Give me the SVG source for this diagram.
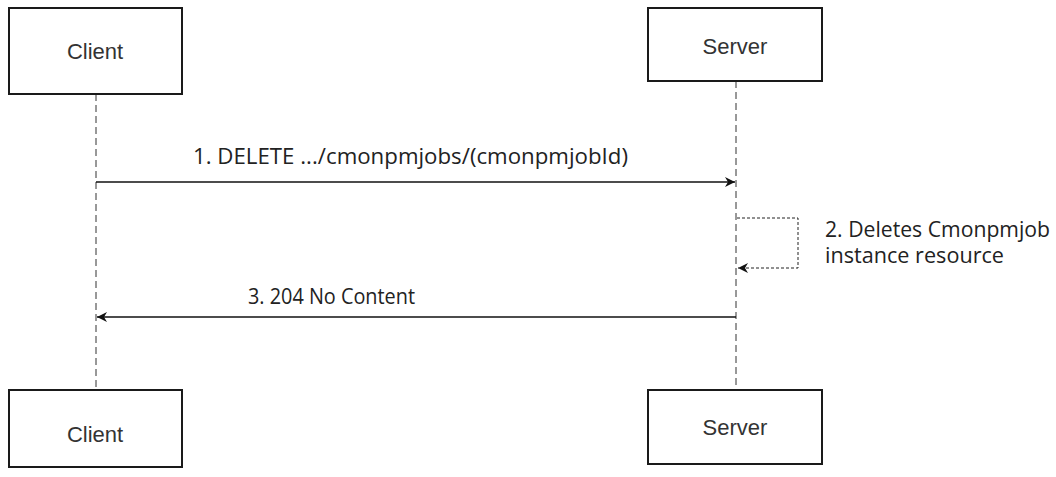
<svg xmlns="http://www.w3.org/2000/svg" width="1056" height="477" viewBox="0 0 1056 477">
  <style>
    .box { fill: #ffffff; stroke: #1a1a1a; stroke-width: 2; }
    .lbl { font-family: "Liberation Sans", Arial, sans-serif; font-size: 22px; fill: #333333; text-anchor: middle; }
    .msg { font-family: "Open Sans", "Liberation Sans", sans-serif; font-size: 21px; fill: #222222; }
    .life { stroke: #333333; stroke-width: 1; stroke-dasharray: 7 4; fill: none; }
    .arrow { stroke: #111111; stroke-width: 1.3; fill: none; }
    .self { stroke: #222222; stroke-width: 1; stroke-dasharray: 3 2; fill: none; }
  </style>
  <defs>
    <marker id="ah" viewBox="0 0 10 10" refX="10" refY="5" markerWidth="10" markerHeight="10" markerUnits="userSpaceOnUse" orient="auto">
      <path d="M0,0 L10,5 L0,10 L3,5 Z" fill="#111111"/>
    </marker>
  </defs>
  <rect width="1056" height="477" fill="#ffffff"/>

  <g id="connectors">
    <line class="life" x1="96" y1="94" x2="96" y2="390"/>
    <line class="life" x1="736" y1="81" x2="736" y2="390"/>
    <line class="arrow" x1="96" y1="182" x2="735" y2="182" marker-end="url(#ah)"/>
    <polyline class="self" points="737,218 798,218 798,268 738,268" marker-end="url(#ah)"/>
    <line class="arrow" x1="736" y1="317" x2="97" y2="317" marker-end="url(#ah)"/>
    <text class="msg" x="193" y="164" textLength="435" lengthAdjust="spacingAndGlyphs">1. DELETE .../cmonpmjobs/(cmonpmjobId)</text>
    <text class="msg" x="825" y="237" textLength="225" lengthAdjust="spacingAndGlyphs">2. Deletes Cmonpmjob</text>
    <text class="msg" x="825" y="263" textLength="179" lengthAdjust="spacingAndGlyphs">instance resource</text>
    <text class="msg" x="248" y="304" textLength="167" lengthAdjust="spacingAndGlyphs">3. 204 No Content</text>
  </g>

  <g id="client-top">
    <rect class="box" x="9" y="8" width="173" height="86"/>
    <text class="lbl" x="95" y="59">Client</text>
  </g>
  <g id="server-top">
    <rect class="box" x="648" y="8" width="174" height="73"/>
    <text class="lbl" x="735" y="54">Server</text>
  </g>
  <g id="client-bottom">
    <rect class="box" x="9" y="390" width="173" height="77"/>
    <text class="lbl" x="95" y="442">Client</text>
  </g>
  <g id="server-bottom">
    <rect class="box" x="648" y="390" width="174" height="74"/>
    <text class="lbl" x="735" y="435">Server</text>
  </g>
</svg>
